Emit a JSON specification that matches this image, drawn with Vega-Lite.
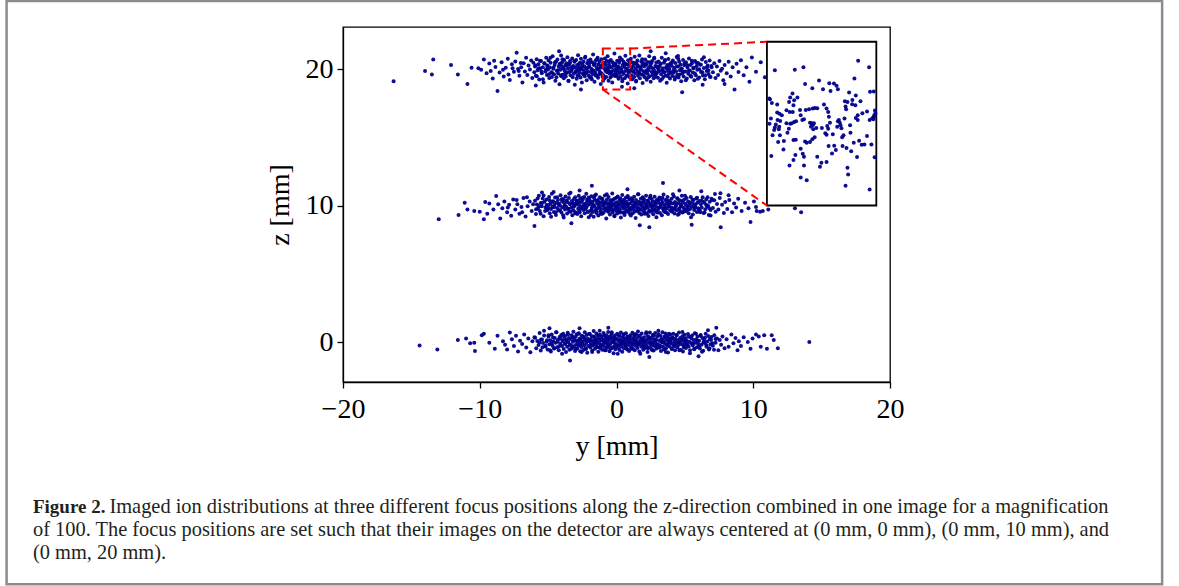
{
"$schema":"https://vega.github.io/schema/vega-lite/v6.json",
"width":547,"height":355,
"autosize":{"type":"none"},
"padding":{"left":343,"top":27,"right":289,"bottom":204},
"background":"white",
"config":{"view":{"stroke":"#000","strokeWidth":1.3},"font":"Liberation Serif",
"axis":{"labelFont":"Liberation Serif","titleFont":"Liberation Serif","labelFontSize":28,"titleFontSize":28,"titleFontWeight":"normal","labelColor":"#000","titleColor":"#000","tickColor":"#000","domainColor":"#000","domainWidth":1.3,"tickWidth":1.3,"tickSize":6,"grid":false,"labelFlush":false}},
"datasets":{
"main":[
{"y":-16.3,"z":19.1},{"y":-14.0,"z":19.85},{"y":-13.4,"z":20.7},{"y":-13.5,"z":19.6},{"y":-12.1,"z":20.3},{"y":-11.6,"z":19.6},{"y":-10.9,"z":18.9},{"y":-10.6,"z":20.1},{"y":-10.1,"z":20.05},{"y":-9.9,"z":19.95},{"y":-9.7,"z":20.7},{"y":-9.5,"z":19.7},{"y":-9.3,"z":20.4},{"y":-9.2,"z":19.85},{"y":-9.05,"z":19.3},{"y":-8.95,"z":20.6},{"y":-8.85,"z":20.15},{"y":-8.7,"z":18.4},{"y":-8.55,"z":19.75},{"y":-8.4,"z":20.5},{"y":-8.3,"z":19.95},{"y":-8.25,"z":19.45},{"y":-8.1,"z":20.1},{"y":-7.95,"z":20.75},{"y":-7.9,"z":19.6},{"y":-7.8,"z":19.2},{"y":-7.65,"z":20.35},{"y":-7.6,"z":20.05},{"y":-7.5,"z":19.8},{"y":-7.4,"z":20.55},{"y":-7.3,"z":21.2},{"y":-7.2,"z":20.0},{"y":-7.15,"z":19.85},{"y":-7.1,"z":19.5},{"y":-7.0,"z":20.45},
{"y":-6.97,"z":20.13},{"y":-6.88,"z":19.01},{"y":-6.79,"z":20.43},{"y":-6.7,"z":19.82},{"y":-6.61,"z":20.82},{"y":-6.52,"z":19.57},{"y":-6.43,"z":20.26},{"y":-6.33,"z":19.97},{"y":-6.24,"z":20.62},{"y":-6.16,"z":19.34},{"y":-6.08,"z":20.46},{"y":-6.01,"z":19.76},
{"y":-5.96,"z":20.19},{"y":-5.9,"z":19.5},{"y":-5.84,"z":20.72},{"y":-5.77,"z":19.92},{"y":-5.71,"z":20.35},{"y":-5.65,"z":19.23},{"y":-5.58,"z":20.05},{"y":-5.52,"z":20.58},{"y":-5.46,"z":19.7},{"y":-5.39,"z":20.13},{"y":-5.33,"z":19.01},{"y":-5.27,"z":20.43},{"y":-5.2,"z":19.82},{"y":-5.14,"z":20.82},{"y":-5.09,"z":19.57},{"y":-5.05,"z":20.26},{"y":-5.01,"z":19.97},
{"y":-4.97,"z":20.62},{"y":-4.92,"z":19.34},{"y":-4.87,"z":20.11},{"y":-4.82,"z":20.46},{"y":-4.77,"z":19.76},{"y":-4.72,"z":19.42},{"y":-4.67,"z":20.93},{"y":-4.62,"z":20.02},{"y":-4.57,"z":19.62},{"y":-4.52,"z":20.3},{"y":-4.47,"z":19.15},{"y":-4.42,"z":20.53},{"y":-4.37,"z":19.87},{"y":-4.32,"z":20.7},{"y":-4.27,"z":19.68},{"y":-4.22,"z":20.16},{"y":-4.17,"z":18.88},{"y":-4.12,"z":20.4},{"y":-4.08,"z":19.94},{"y":-4.05,"z":20.99},{"y":-4.03,"z":19.47},{"y":-4.01,"z":20.22},
{"y":-3.97,"z":20.5},{"y":-3.93,"z":19.58},{"y":-3.9,"z":20.08},{"y":-3.85,"z":19.33},{"y":-3.82,"z":20.67},{"y":-3.78,"z":19.86},{"y":-3.74,"z":20.27},{"y":-3.71,"z":19.46},{"y":-3.66,"z":20.42},{"y":-3.63,"z":19.73},{"y":-3.59,"z":20.86},{"y":-3.55,"z":20.03},{"y":-3.51,"z":19.12},{"y":-3.47,"z":20.34},{"y":-3.44,"z":19.79},{"y":-3.4,"z":20.59},{"y":-3.36,"z":19.54},{"y":-3.32,"z":20.14},{"y":-3.28,"z":19.94},{"y":-3.24,"z":20.77},{"y":-3.2,"z":19.39},{"y":-3.16,"z":20.22},{"y":-3.12,"z":19.66},{"y":-3.08,"z":20.53},{"y":-3.05,"z":18.85},{"y":-3.01,"z":20.1},
{"y":-2.98,"z":19.81},{"y":-2.95,"z":20.66},{"y":-2.91,"z":19.28},{"y":-2.88,"z":20.3},{"y":-2.84,"z":19.95},{"y":-2.81,"z":21.01},{"y":-2.77,"z":19.55},{"y":-2.74,"z":20.13},{"y":-2.7,"z":19.74},{"y":-2.67,"z":20.46},{"y":-2.63,"z":19.38},{"y":-2.6,"z":20.75},{"y":-2.56,"z":20.02},{"y":-2.53,"z":19.02},{"y":-2.49,"z":20.37},{"y":-2.46,"z":19.65},{"y":-2.42,"z":20.56},{"y":-2.39,"z":19.89},{"y":-2.35,"z":20.19},{"y":-2.32,"z":19.47},{"y":-2.28,"z":20.9},{"y":-2.25,"z":19.71},{"y":-2.21,"z":20.06},{"y":-2.18,"z":19.18},{"y":-2.14,"z":20.43},{"y":-2.11,"z":19.84},{"y":-2.07,"z":20.61},{"y":-2.03,"z":19.52},
{"y":-1.98,"z":20.24},{"y":-1.95,"z":19.38},{"y":-1.91,"z":20.7},{"y":-1.88,"z":19.78},{"y":-1.85,"z":20.03},{"y":-1.81,"z":19.25},{"y":-1.78,"z":20.5},{"y":-1.75,"z":19.63},{"y":-1.71,"z":21.07},{"y":-1.68,"z":19.9},{"y":-1.65,"z":20.29},{"y":-1.61,"z":19.07},{"y":-1.58,"z":20.4},{"y":-1.55,"z":19.73},{"y":-1.51,"z":20.64},{"y":-1.48,"z":19.5},{"y":-1.45,"z":20.14},{"y":-1.41,"z":19.97},{"y":-1.38,"z":20.83},{"y":-1.35,"z":19.36},{"y":-1.31,"z":20.34},{"y":-1.28,"z":19.6},{"y":-1.25,"z":20.53},{"y":-1.21,"z":19.81},{"y":-1.18,"z":20.1},{"y":-1.15,"z":18.91},{"y":-1.11,"z":20.72},{"y":-1.08,"z":19.68},{"y":-1.05,"z":20.22},{"y":-1.02,"z":19.44},
{"y":-0.98,"z":20.43},{"y":-0.95,"z":19.54},{"y":-0.91,"z":20.05},{"y":-0.88,"z":19.31},{"y":-0.85,"z":20.78},{"y":-0.81,"z":19.87},{"y":-0.78,"z":20.3},{"y":-0.75,"z":19.42},{"y":-0.71,"z":20.58},{"y":-0.68,"z":19.76},{"y":-0.65,"z":20.93},{"y":-0.61,"z":19.95},{"y":-0.58,"z":19.14},{"y":-0.55,"z":20.37},{"y":-0.51,"z":19.66},{"y":-0.48,"z":20.18},{"y":-0.45,"z":19.38},{"y":-0.41,"z":20.67},{"y":-0.38,"z":19.82},{"y":-0.35,"z":20.11},{"y":-0.31,"z":19.01},{"y":-0.28,"z":20.5},{"y":-0.25,"z":19.62},{"y":-0.21,"z":20.26},{"y":-0.18,"z":19.92},{"y":-0.15,"z":21.14},{"y":-0.11,"z":19.49},{"y":-0.08,"z":20.38},{"y":-0.05,"z":19.73},{"y":-0.02,"z":20.06},
{"y":0.02,"z":19.57},{"y":0.05,"z":20.61},{"y":0.09,"z":19.86},{"y":0.12,"z":20.19},{"y":0.15,"z":19.28},{"y":0.19,"z":20.46},{"y":0.22,"z":19.71},{"y":0.25,"z":20.85},{"y":0.29,"z":19.46},{"y":0.32,"z":20.08},{"y":0.35,"z":19.94},{"y":0.39,"z":20.7},{"y":0.42,"z":19.1},{"y":0.45,"z":20.29},{"y":0.49,"z":19.63},{"y":0.52,"z":20.53},{"y":0.55,"z":19.79},{"y":0.59,"z":20.14},{"y":0.62,"z":19.34},{"y":0.65,"z":20.98},{"y":0.69,"z":19.89},{"y":0.72,"z":20.35},{"y":0.75,"z":19.52},{"y":0.79,"z":20.02},{"y":0.82,"z":18.94},{"y":0.85,"z":20.64},{"y":0.89,"z":19.76},{"y":0.92,"z":20.24},{"y":0.95,"z":19.41},{"y":0.98,"z":20.43},
{"y":1.02,"z":19.9},{"y":1.05,"z":20.75},{"y":1.09,"z":19.55},{"y":1.12,"z":20.13},{"y":1.16,"z":19.25},{"y":1.19,"z":20.48},{"y":1.22,"z":19.81},{"y":1.26,"z":20.3},{"y":1.29,"z":19.42},{"y":1.33,"z":20.9},{"y":1.36,"z":19.68},{"y":1.4,"z":20.05},{"y":1.43,"z":19.09},{"y":1.47,"z":20.4},{"y":1.5,"z":19.87},{"y":1.53,"z":20.62},{"y":1.57,"z":19.5},{"y":1.6,"z":20.21},{"y":1.64,"z":19.76},{"y":1.67,"z":20.99},{"y":1.71,"z":19.33},{"y":1.74,"z":20.1},{"y":1.78,"z":19.95},{"y":1.81,"z":20.54},{"y":1.84,"z":19.6},{"y":1.88,"z":20.27},{"y":1.91,"z":18.98},{"y":1.95,"z":20.45},{"y":1.98,"z":19.84},
{"y":2.02,"z":20.18},{"y":2.06,"z":19.39},{"y":2.1,"z":20.69},{"y":2.13,"z":19.74},{"y":2.17,"z":20.32},{"y":2.21,"z":19.22},{"y":2.24,"z":20.51},{"y":2.28,"z":19.65},{"y":2.32,"z":20.08},{"y":2.35,"z":19.92},{"y":2.39,"z":20.94},{"y":2.43,"z":19.47},{"y":2.46,"z":20.26},{"y":2.5,"z":19.06},{"y":2.54,"z":20.42},{"y":2.58,"z":19.79},{"y":2.61,"z":20.59},{"y":2.65,"z":19.57},{"y":2.69,"z":20.03},{"y":2.72,"z":19.33},{"y":2.76,"z":20.77},{"y":2.8,"z":19.86},{"y":2.84,"z":20.22},{"y":2.87,"z":19.46},{"y":2.91,"z":20.48},{"y":2.95,"z":19.71},{"y":2.98,"z":20.11},
{"y":3.03,"z":19.36},{"y":3.07,"z":20.56},{"y":3.11,"z":19.82},{"y":3.15,"z":20.19},{"y":3.19,"z":19.15},{"y":3.23,"z":20.37},{"y":3.27,"z":19.62},{"y":3.31,"z":20.83},{"y":3.35,"z":19.9},{"y":3.39,"z":20.06},{"y":3.43,"z":19.41},{"y":3.47,"z":20.46},{"y":3.51,"z":19.76},{"y":3.55,"z":20.66},{"y":3.59,"z":19.52},{"y":3.63,"z":20.14},{"y":3.67,"z":18.99},{"y":3.71,"z":20.29},{"y":3.75,"z":19.87},{"y":3.79,"z":20.74},{"y":3.83,"z":19.66},{"y":3.87,"z":20.02},{"y":3.91,"z":19.3},{"y":3.95,"z":20.43},{"y":3.98,"z":19.79},
{"y":4.03,"z":20.24},{"y":4.08,"z":19.49},{"y":4.12,"z":20.62},{"y":4.17,"z":19.73},{"y":4.22,"z":20.1},{"y":4.26,"z":19.23},{"y":4.31,"z":20.45},{"y":4.36,"z":19.84},{"y":4.4,"z":20.88},{"y":4.45,"z":19.58},{"y":4.5,"z":20.18},{"y":4.54,"z":19.38},{"y":4.59,"z":20.53},{"y":4.64,"z":19.92},{"y":4.68,"z":20.32},{"y":4.73,"z":19.1},{"y":4.78,"z":20.03},{"y":4.82,"z":19.7},{"y":4.87,"z":20.67},{"y":4.91,"z":19.46},{"y":4.96,"z":20.27},
{"y":5.03,"z":19.82},{"y":5.08,"z":20.5},{"y":5.14,"z":19.31},{"y":5.19,"z":20.11},{"y":5.25,"z":19.65},{"y":5.3,"z":20.77},{"y":5.36,"z":19.89},{"y":5.41,"z":20.3},{"y":5.47,"z":19.44},{"y":5.52,"z":20.42},{"y":5.58,"z":19.74},{"y":5.63,"z":20.06},{"y":5.69,"z":19.18},{"y":5.74,"z":20.59},{"y":5.8,"z":19.55},{"y":5.85,"z":20.21},{"y":5.91,"z":19.94},{"y":5.96,"z":20.45},
{"y":6.04,"z":19.38},{"y":6.11,"z":20.34},{"y":6.18,"z":19.78},{"y":6.25,"z":20.7},{"y":6.32,"z":19.52},{"y":6.39,"z":20.08},{"y":6.46,"z":19.25},{"y":6.53,"z":20.51},{"y":6.6,"z":19.86},{"y":6.67,"z":20.26},{"y":6.74,"z":19.63},{"y":6.81,"z":20.62},{"y":6.88,"z":19.42},{"y":6.95,"z":20.13},
{"y":7.05,"z":19.76},{"y":7.15,"z":20.43},{"y":7.24,"z":19.34},{"y":7.34,"z":20.18},{"y":7.43,"z":19.57},{"y":7.53,"z":20.58},{"y":7.62,"z":19.87},{"y":7.72,"z":20.03},{"y":7.81,"z":19.17},{"y":7.91,"z":20.3},
{"y":8.06,"z":19.7},{"y":8.2,"z":20.54},{"y":8.35,"z":19.46},{"y":8.49,"z":20.14},{"y":8.63,"z":18.5},{"y":8.78,"z":20.38},{"y":8.92,"z":19.79},{"y":9.1,"z":20.65},{"y":9.3,"z":19.55},{"y":9.5,"z":20.13},{"y":9.72,"z":19.07},{"y":9.9,"z":20.85},{"y":10.2,"z":19.8},{"y":10.55,"z":20.5},{"y":10.85,"z":19.4},{"y":11.3,"z":20.1},{"y":11.7,"z":19.5},
{"y":-2.6,"z":18.5},{"y":0.4,"z":18.7},{"y":4.8,"z":18.3},{"y":2.5,"z":21.3},{"y":4.5,"z":20.95},{"y":-4.2,"z":21.3},{"y":7.9,"z":18.9},{"y":-5.9,"z":18.8},{"y":1.3,"z":18.6},{"y":3.6,"z":21.15},{"y":6.3,"z":18.85},
{"y":-5.93,"z":20.28},{"y":-5.82,"z":19.48},{"y":-5.71,"z":20.06},{"y":-5.6,"z":20.61},{"y":-5.49,"z":19.82},{"y":-5.38,"z":19.26},{"y":-5.27,"z":20.4},{"y":-5.16,"z":19.97},{"y":-5.05,"z":20.19},{"y":-4.94,"z":19.61},{"y":-4.83,"z":20.83},{"y":-4.72,"z":19.73},{"y":-4.61,"z":20.12},{"y":-4.5,"z":20.5},{"y":-4.39,"z":19.4},{"y":-4.28,"z":19.91},{"y":-4.17,"z":20.33},{"y":-4.06,"z":19.54},{"y":-3.95,"z":20.71},{"y":-3.84,"z":20.02},{"y":-3.73,"z":19.69},{"y":-3.62,"z":20.24},{"y":-3.51,"z":19.14},{"y":-3.4,"z":20.45},{"y":-3.29,"z":19.86},{"y":-3.18,"z":20.09},{"y":-3.07,"z":20.57},{"y":-2.96,"z":19.78},{"y":-2.85,"z":19.51},{"y":-2.74,"z":20.36},
{"y":-2.63,"z":19.97},{"y":-2.52,"z":20.19},{"y":-2.41,"z":19.61},{"y":-2.3,"z":20.83},{"y":-2.19,"z":19.73},{"y":-2.08,"z":20.12},{"y":-1.97,"z":20.5},{"y":-1.86,"z":19.4},{"y":-1.75,"z":19.91},{"y":-1.64,"z":20.33},{"y":-1.53,"z":19.54},{"y":-1.42,"z":20.71},{"y":-1.31,"z":20.02},{"y":-1.2,"z":19.69},{"y":-1.09,"z":20.24},{"y":-0.98,"z":19.14},{"y":-0.87,"z":20.45},{"y":-0.76,"z":19.86},{"y":-0.65,"z":20.09},{"y":-0.54,"z":20.57},{"y":-0.43,"z":19.78},{"y":-0.32,"z":19.51},{"y":-0.21,"z":20.36},{"y":-0.1,"z":20.28},{"y":0.01,"z":19.48},{"y":0.12,"z":20.06},{"y":0.23,"z":20.61},{"y":0.34,"z":19.82},{"y":0.45,"z":19.26},{"y":0.56,"z":20.4},
{"y":0.67,"z":20.36},{"y":0.78,"z":19.51},{"y":0.89,"z":19.78},{"y":1.0,"z":20.57},{"y":1.11,"z":20.09},{"y":1.22,"z":19.86},{"y":1.33,"z":20.45},{"y":1.44,"z":19.14},{"y":1.55,"z":20.24},{"y":1.66,"z":19.69},{"y":1.77,"z":20.02},{"y":1.88,"z":20.71},{"y":1.99,"z":19.54},{"y":2.1,"z":20.33},{"y":2.21,"z":19.91},{"y":2.32,"z":19.4},{"y":2.43,"z":20.5},{"y":2.54,"z":20.12},{"y":2.65,"z":19.73},{"y":2.76,"z":20.83},{"y":2.87,"z":19.61},{"y":2.98,"z":20.19},{"y":3.09,"z":19.97},{"y":3.2,"z":20.4},{"y":3.31,"z":19.26},{"y":3.42,"z":19.82},{"y":3.53,"z":20.61},{"y":3.64,"z":20.06},{"y":3.75,"z":19.48},{"y":3.86,"z":20.28},
{"y":3.97,"z":19.72},{"y":4.08,"z":20.52},{"y":4.19,"z":19.94},{"y":4.3,"z":19.39},{"y":4.41,"z":20.18},{"y":4.52,"z":20.74},{"y":4.63,"z":19.6},{"y":4.74,"z":20.03},{"y":4.85,"z":19.81},{"y":4.96,"z":20.39},{"y":5.07,"z":19.17},{"y":5.18,"z":20.27},{"y":5.29,"z":19.88},{"y":5.4,"z":19.5},{"y":5.51,"z":20.6},{"y":5.62,"z":20.09},{"y":5.73,"z":19.67},{"y":5.84,"z":20.46},{"y":5.95,"z":19.29},{"y":6.06,"z":19.98},{"y":6.17,"z":20.31},{"y":6.28,"z":19.76},{"y":6.39,"z":20.86},{"y":6.5,"z":19.55},{"y":6.61,"z":20.14},{"y":6.72,"z":19.91},{"y":6.83,"z":19.43},{"y":6.94,"z":20.22},

{"y":-13.0,"z":9.0},{"y":-11.55,"z":9.3},{"y":-11.1,"z":10.2},{"y":-10.9,"z":9.7},{"y":-10.4,"z":9.6},{"y":-10.0,"z":9.55},{"y":-9.7,"z":9.0},{"y":-9.6,"z":10.25},{"y":-9.45,"z":9.4},{"y":-9.3,"z":10.15},{"y":-9.0,"z":9.7},{"y":-8.8,"z":10.7},{"y":-8.65,"z":10.1},{"y":-8.5,"z":9.05},{"y":-8.35,"z":9.8},{"y":-8.2,"z":10.3},{"y":-8.0,"z":9.5},{"y":-7.95,"z":9.85},{"y":-7.85,"z":10.05},{"y":-7.7,"z":9.25},{"y":-7.55,"z":10.45},{"y":-7.4,"z":9.7},{"y":-7.3,"z":10.4},{"y":-7.25,"z":10.1},{"y":-7.1,"z":9.4},{"y":-6.95,"z":9.9},{"y":-6.9,"z":9.5},{"y":-6.8,"z":10.55},{"y":-6.65,"z":9.2},{"y":-6.55,"z":10.6},{"y":-6.5,"z":9.95},{"y":-6.35,"z":10.3},{"y":-6.2,"z":9.6},{"y":-6.1,"z":10.1},{"y":-6.0,"z":8.5},{"y":-5.45,"z":10.95},
{"y":-5.96,"z":10.35},{"y":-5.89,"z":9.38},{"y":-5.82,"z":10.08},{"y":-5.75,"z":9.79},{"y":-5.68,"z":10.71},{"y":-5.61,"z":9.6},{"y":-5.54,"z":10.19},{"y":-5.47,"z":9.95},{"y":-5.4,"z":10.52},{"y":-5.33,"z":9.22},{"y":-5.26,"z":10.27},{"y":-5.19,"z":9.86},{"y":-5.12,"z":10.44},{"y":-5.05,"z":9.67},
{"y":-4.98,"z":10.02},{"y":-4.93,"z":10.63},{"y":-4.88,"z":9.44},{"y":-4.84,"z":10.13},{"y":-4.79,"z":9.74},{"y":-4.73,"z":10.86},{"y":-4.69,"z":9.91},{"y":-4.64,"z":10.31},{"y":-4.58,"z":9.53},{"y":-4.54,"z":10.05},{"y":-4.49,"z":10.58},{"y":-4.43,"z":9.31},{"y":-4.39,"z":10.22},{"y":-4.34,"z":9.82},{"y":-4.28,"z":10.4},{"y":-4.24,"z":9.63},{"y":-4.19,"z":10.11},{"y":-4.13,"z":9.98},{"y":-4.09,"z":10.76},{"y":-4.03,"z":9.49},
{"y":-3.98,"z":10.29},{"y":-3.94,"z":9.88},{"y":-3.9,"z":10.48},{"y":-3.86,"z":9.12},{"y":-3.81,"z":10.16},{"y":-3.77,"z":9.7},{"y":-3.73,"z":10.66},{"y":-3.69,"z":9.93},{"y":-3.65,"z":10.37},{"y":-3.61,"z":9.41},{"y":-3.56,"z":10.24},{"y":-3.52,"z":9.76},{"y":-3.48,"z":10.55},{"y":-3.44,"z":9.57},{"y":-3.4,"z":10.09},{"y":-3.36,"z":10.93},{"y":-3.31,"z":9.84},{"y":-3.27,"z":10.33},{"y":-3.23,"z":9.28},{"y":-3.19,"z":10.2},{"y":-3.15,"z":9.65},{"y":-3.11,"z":10.47},{"y":-3.06,"z":9.99},{"y":-3.02,"z":10.6},
{"y":-2.98,"z":9.5},{"y":-2.95,"z":10.14},{"y":-2.91,"z":10.35},{"y":-2.87,"z":9.38},{"y":-2.84,"z":10.08},{"y":-2.8,"z":9.79},{"y":-2.76,"z":10.71},{"y":-2.73,"z":9.6},{"y":-2.69,"z":10.19},{"y":-2.65,"z":9.95},{"y":-2.62,"z":10.52},{"y":-2.58,"z":9.22},{"y":-2.54,"z":10.27},{"y":-2.51,"z":9.86},{"y":-2.47,"z":10.44},{"y":-2.43,"z":9.67},{"y":-2.4,"z":10.02},{"y":-2.36,"z":10.63},{"y":-2.32,"z":9.44},{"y":-2.29,"z":10.13},{"y":-2.25,"z":9.74},{"y":-2.21,"z":10.86},{"y":-2.18,"z":9.91},{"y":-2.14,"z":10.31},{"y":-2.1,"z":9.53},{"y":-2.07,"z":10.05},{"y":-2.03,"z":10.58},
{"y":-1.98,"z":10.45},{"y":-1.95,"z":9.6},{"y":-1.91,"z":10.12},{"y":-1.88,"z":9.31},{"y":-1.84,"z":10.68},{"y":-1.81,"z":9.84},{"y":-1.77,"z":10.27},{"y":-1.74,"z":9.52},{"y":-1.71,"z":10.03},{"y":-1.67,"z":9.17},{"y":-1.64,"z":10.55},{"y":-1.6,"z":9.93},{"y":-1.57,"z":10.36},{"y":-1.53,"z":9.68},{"y":-1.5,"z":10.81},{"y":-1.47,"z":9.45},{"y":-1.43,"z":10.15},{"y":-1.4,"z":9.78},{"y":-1.36,"z":10.41},{"y":-1.33,"z":9.26},{"y":-1.29,"z":10.07},{"y":-1.26,"z":9.89},{"y":-1.22,"z":10.6},{"y":-1.19,"z":9.56},{"y":-1.16,"z":10.22},{"y":-1.12,"z":9.72},{"y":-1.09,"z":10.5},{"y":-1.05,"z":9.39},{"y":-1.02,"z":9.98},
{"y":-0.98,"z":10.31},{"y":-0.95,"z":9.47},{"y":-0.91,"z":10.09},{"y":-0.88,"z":9.81},{"y":-0.85,"z":10.74},{"y":-0.81,"z":9.63},{"y":-0.78,"z":10.2},{"y":-0.75,"z":9.05},{"y":-0.71,"z":10.43},{"y":-0.68,"z":9.9},{"y":-0.65,"z":10.14},{"y":-0.61,"z":9.55},{"y":-0.58,"z":10.62},{"y":-0.55,"z":9.76},{"y":-0.51,"z":10.01},{"y":-0.48,"z":9.35},{"y":-0.45,"z":10.38},{"y":-0.41,"z":9.86},{"y":-0.38,"z":10.25},{"y":-0.35,"z":9.66},{"y":-0.31,"z":10.88},{"y":-0.28,"z":9.5},{"y":-0.25,"z":10.05},{"y":-0.21,"z":9.73},{"y":-0.18,"z":10.47},{"y":-0.15,"z":9.22},{"y":-0.11,"z":10.17},{"y":-0.08,"z":9.95},{"y":-0.05,"z":10.56},{"y":-0.02,"z":9.61},
{"y":0.02,"z":10.24},{"y":0.05,"z":9.42},{"y":0.09,"z":10.66},{"y":0.12,"z":9.83},{"y":0.15,"z":10.08},{"y":0.19,"z":9.58},{"y":0.22,"z":10.35},{"y":0.25,"z":9.7},{"y":0.29,"z":10.52},{"y":0.32,"z":9.13},{"y":0.35,"z":10.19},{"y":0.39,"z":9.92},{"y":0.42,"z":10.77},{"y":0.45,"z":9.49},{"y":0.49,"z":10.04},{"y":0.52,"z":9.79},{"y":0.55,"z":10.42},{"y":0.59,"z":9.3},{"y":0.62,"z":10.13},{"y":0.65,"z":9.88},{"y":0.69,"z":10.59},{"y":0.72,"z":9.64},{"y":0.75,"z":10.28},{"y":0.79,"z":9.97},{"y":0.82,"z":10.7},{"y":0.85,"z":9.53},{"y":0.89,"z":10.1},{"y":0.92,"z":9.74},{"y":0.95,"z":10.46},{"y":0.98,"z":9.38},
{"y":1.02,"z":10.16},{"y":1.05,"z":9.67},{"y":1.09,"z":10.53},{"y":1.12,"z":9.85},{"y":1.16,"z":10.32},{"y":1.19,"z":9.44},{"y":1.22,"z":10.02},{"y":1.26,"z":9.76},{"y":1.29,"z":10.64},{"y":1.33,"z":9.57},{"y":1.36,"z":10.21},{"y":1.4,"z":9.09},{"y":1.43,"z":10.4},{"y":1.47,"z":9.9},{"y":1.5,"z":10.11},{"y":1.53,"z":9.62},{"y":1.57,"z":10.83},{"y":1.6,"z":9.8},{"y":1.64,"z":10.27},{"y":1.67,"z":9.46},{"y":1.71,"z":10.06},{"y":1.74,"z":9.71},{"y":1.78,"z":10.5},{"y":1.81,"z":9.34},{"y":1.84,"z":10.18},{"y":1.88,"z":9.94},{"y":1.91,"z":10.61},{"y":1.95,"z":9.59},{"y":1.98,"z":10.3},{"y":1.99,"z":9.82},
{"y":2.02,"z":10.44},{"y":2.06,"z":9.52},{"y":2.09,"z":10.13},{"y":2.13,"z":9.78},{"y":2.16,"z":10.72},{"y":2.2,"z":9.4},{"y":2.23,"z":10.05},{"y":2.27,"z":9.87},{"y":2.3,"z":10.37},{"y":2.34,"z":9.24},{"y":2.37,"z":10.22},{"y":2.41,"z":9.65},{"y":2.44,"z":10.57},{"y":2.48,"z":9.96},{"y":2.51,"z":10.09},{"y":2.55,"z":9.55},{"y":2.58,"z":10.48},{"y":2.62,"z":9.81},{"y":2.65,"z":10.29},{"y":2.69,"z":9.36},{"y":2.72,"z":10.01},{"y":2.76,"z":9.73},{"y":2.79,"z":10.65},{"y":2.83,"z":9.6},{"y":2.86,"z":10.15},{"y":2.9,"z":9.91},{"y":2.93,"z":10.39},{"y":2.97,"z":9.48},{"y":2.99,"z":10.2},
{"y":3.03,"z":9.69},{"y":3.07,"z":10.33},{"y":3.1,"z":9.84},{"y":3.14,"z":10.58},{"y":3.18,"z":9.45},{"y":3.21,"z":10.11},{"y":3.25,"z":9.93},{"y":3.29,"z":10.46},{"y":3.32,"z":9.28},{"y":3.36,"z":10.24},{"y":3.4,"z":9.75},{"y":3.44,"z":10.8},{"y":3.47,"z":9.58},{"y":3.51,"z":10.04},{"y":3.55,"z":9.88},{"y":3.58,"z":10.41},{"y":3.62,"z":9.51},{"y":3.66,"z":10.17},{"y":3.69,"z":9.79},{"y":3.73,"z":10.62},{"y":3.77,"z":9.37},{"y":3.81,"z":10.07},{"y":3.84,"z":9.95},{"y":3.88,"z":10.34},{"y":3.92,"z":9.63},{"y":3.95,"z":10.21},{"y":3.99,"z":9.86},
{"y":4.03,"z":10.49},{"y":4.07,"z":9.54},{"y":4.11,"z":10.14},{"y":4.15,"z":9.8},{"y":4.2,"z":10.67},{"y":4.24,"z":9.41},{"y":4.28,"z":10.26},{"y":4.32,"z":9.9},{"y":4.36,"z":10.02},{"y":4.4,"z":9.66},{"y":4.45,"z":10.53},{"y":4.49,"z":9.32},{"y":4.53,"z":10.19},{"y":4.57,"z":9.77},{"y":4.61,"z":10.38},{"y":4.65,"z":9.6},{"y":4.7,"z":10.08},{"y":4.74,"z":9.97},{"y":4.78,"z":10.71},{"y":4.82,"z":9.49},{"y":4.86,"z":10.23},{"y":4.9,"z":9.84},{"y":4.94,"z":10.43},{"y":4.98,"z":9.7},
{"y":5.03,"z":10.12},{"y":5.08,"z":9.58},{"y":5.13,"z":10.55},{"y":5.18,"z":9.83},{"y":5.23,"z":10.29},{"y":5.28,"z":9.43},{"y":5.33,"z":10.03},{"y":5.38,"z":9.74},{"y":5.43,"z":10.63},{"y":5.48,"z":9.92},{"y":5.53,"z":10.18},{"y":5.58,"z":9.35},{"y":5.63,"z":10.4},{"y":5.68,"z":9.67},{"y":5.73,"z":10.07},{"y":5.78,"z":9.88},{"y":5.83,"z":10.51},{"y":5.88,"z":9.52},{"y":5.93,"z":10.22},{"y":5.98,"z":9.79},
{"y":6.04,"z":10.34},{"y":6.1,"z":9.62},{"y":6.17,"z":10.09},{"y":6.23,"z":9.85},{"y":6.3,"z":10.6},{"y":6.36,"z":9.45},{"y":6.43,"z":10.2},{"y":6.49,"z":9.73},{"y":6.56,"z":10.44},{"y":6.62,"z":9.94},{"y":6.69,"z":10.01},{"y":6.75,"z":9.3},{"y":6.82,"z":10.27},{"y":6.88,"z":9.68},{"y":6.95,"z":10.5},
{"y":7.05,"z":9.82},{"y":7.15,"z":10.38},{"y":7.25,"z":9.55},{"y":7.35,"z":10.12},{"y":7.45,"z":9.7},{"y":7.55,"z":10.55},{"y":7.62,"z":8.4},{"y":7.72,"z":10.05},{"y":7.85,"z":9.45},{"y":7.95,"z":10.25},
{"y":8.1,"z":9.75},{"y":8.25,"z":10.4},{"y":8.45,"z":9.5},{"y":8.6,"z":10.15},{"y":8.75,"z":9.85},{"y":8.9,"z":10.5},{"y":9.15,"z":9.6},{"y":9.4,"z":10.2},{"y":9.65,"z":9.8},{"y":9.8,"z":8.8},{"y":10.05,"z":10.3},{"y":10.2,"z":9.9},{"y":10.25,"z":9.6},{"y":10.5,"z":9.55},{"y":10.7,"z":9.6},{"y":11.1,"z":9.7},{"y":11.6,"z":10.4},{"y":13.05,"z":9.8},{"y":13.5,"z":9.5},
{"y":-1.8,"z":11.45},{"y":3.4,"z":11.65},{"y":4.6,"z":11.1},{"y":2.4,"z":8.4},{"y":7.2,"z":10.85},{"y":7.6,"z":10.9},{"y":8.2,"z":10.75},{"y":-3.3,"z":8.7},{"y":0.8,"z":11.2},{"y":5.5,"z":8.6},{"y":-4.6,"z":11.0},{"y":1.7,"z":8.55},{"y":6.2,"z":11.05},{"y":-2.7,"z":11.1},
{"y":-5.88,"z":9.72},{"y":-5.77,"z":10.52},{"y":-5.66,"z":9.94},{"y":-5.55,"z":9.39},{"y":-5.44,"z":10.18},{"y":-5.33,"z":10.74},{"y":-5.22,"z":9.6},{"y":-5.11,"z":10.03},{"y":-5.0,"z":9.81},{"y":-4.89,"z":10.39},{"y":-4.78,"z":9.17},{"y":-4.67,"z":10.27},{"y":-4.56,"z":9.88},{"y":-4.45,"z":9.5},{"y":-4.34,"z":10.6},{"y":-4.23,"z":10.09},{"y":-4.12,"z":9.67},{"y":-4.01,"z":10.46},{"y":-3.9,"z":9.29},{"y":-3.79,"z":9.98},{"y":-3.68,"z":10.31},{"y":-3.57,"z":9.76},{"y":-3.46,"z":10.86},{"y":-3.35,"z":9.55},{"y":-3.24,"z":10.14},{"y":-3.13,"z":9.91},{"y":-3.02,"z":9.43},{"y":-2.91,"z":10.22},
{"y":-2.8,"z":10.36},{"y":-2.69,"z":9.51},{"y":-2.58,"z":9.78},{"y":-2.47,"z":10.57},{"y":-2.36,"z":10.09},{"y":-2.25,"z":9.86},{"y":-2.14,"z":10.45},{"y":-2.03,"z":9.14},{"y":-1.92,"z":10.24},{"y":-1.81,"z":9.69},{"y":-1.7,"z":10.02},{"y":-1.59,"z":10.71},{"y":-1.48,"z":9.54},{"y":-1.37,"z":10.33},{"y":-1.26,"z":9.91},{"y":-1.15,"z":9.4},{"y":-1.04,"z":10.5},{"y":-0.93,"z":10.12},{"y":-0.82,"z":9.73},{"y":-0.71,"z":10.83},{"y":-0.6,"z":9.61},{"y":-0.49,"z":10.19},{"y":-0.38,"z":9.97},{"y":-0.27,"z":10.4},{"y":-0.16,"z":9.26},{"y":-0.05,"z":9.82},{"y":0.06,"z":10.61},{"y":0.17,"z":10.06},{"y":0.28,"z":9.48},{"y":0.39,"z":10.28},
{"y":0.5,"z":10.28},{"y":0.61,"z":9.48},{"y":0.72,"z":10.06},{"y":0.83,"z":10.61},{"y":0.94,"z":9.82},{"y":1.05,"z":9.26},{"y":1.16,"z":10.4},{"y":1.27,"z":9.97},{"y":1.38,"z":10.19},{"y":1.49,"z":9.61},{"y":1.6,"z":10.83},{"y":1.71,"z":9.73},{"y":1.82,"z":10.12},{"y":1.93,"z":10.5},{"y":2.04,"z":9.4},{"y":2.15,"z":9.91},{"y":2.26,"z":10.33},{"y":2.37,"z":9.54},{"y":2.48,"z":10.71},{"y":2.59,"z":10.02},{"y":2.7,"z":9.69},{"y":2.81,"z":10.24},{"y":2.92,"z":9.14},{"y":3.03,"z":10.45},{"y":3.14,"z":9.86},{"y":3.25,"z":10.09},{"y":3.36,"z":10.57},{"y":3.47,"z":9.78},{"y":3.58,"z":9.51},{"y":3.69,"z":10.36},
{"y":3.8,"z":9.97},{"y":3.91,"z":10.19},{"y":4.02,"z":9.61},{"y":4.13,"z":10.83},{"y":4.24,"z":9.73},{"y":4.35,"z":10.12},{"y":4.46,"z":10.5},{"y":4.57,"z":9.4},{"y":4.68,"z":9.91},{"y":4.79,"z":10.33},{"y":4.9,"z":9.54},{"y":5.01,"z":10.71},{"y":5.12,"z":10.02},{"y":5.23,"z":9.69},{"y":5.34,"z":10.24},{"y":5.45,"z":9.14},{"y":5.56,"z":10.45},{"y":5.67,"z":9.86},{"y":5.78,"z":10.09},{"y":5.89,"z":10.57},{"y":6.0,"z":9.78},{"y":6.11,"z":9.51},{"y":6.22,"z":10.36},{"y":6.33,"z":10.28},{"y":6.44,"z":9.48},{"y":6.55,"z":10.06},{"y":6.66,"z":10.61},{"y":6.77,"z":9.82},{"y":6.88,"z":9.26},{"y":6.99,"z":10.4},

{"y":-14.4,"z":-0.25},{"y":-13.1,"z":-0.55},{"y":-11.6,"z":0.15},{"y":-11.0,"z":0.25},{"y":-10.7,"z":-0.1},{"y":-10.4,"z":-0.05},{"y":-10.35,"z":-0.65},{"y":-9.85,"z":0.5},{"y":-9.7,"z":0.6},{"y":-9.3,"z":-0.05},{"y":-8.9,"z":-0.5},{"y":-8.7,"z":0.45},{"y":-8.3,"z":0.05},{"y":-8.15,"z":-0.2},{"y":-8.0,"z":-0.55},{"y":-7.8,"z":0.7},{"y":-7.65,"z":0.2},{"y":-7.5,"z":-0.3},{"y":-7.35,"z":0.45},{"y":-7.2,"z":-0.7},{"y":-7.05,"z":0.1},{"y":-6.9,"z":-0.15},{"y":-6.75,"z":0.55},{"y":-6.6,"z":-0.4},{"y":-6.45,"z":0.25},{"y":-6.3,"z":-0.75},{"y":-6.15,"z":0.05},{"y":-6.0,"z":0.35},
{"y":-5.95,"z":0.32},{"y":-5.87,"z":-0.45},{"y":-5.79,"z":0.08},{"y":-5.7,"z":-0.21},{"y":-5.62,"z":0.66},{"y":-5.54,"z":-0.62},{"y":-5.45,"z":0.19},{"y":-5.37,"z":-0.08},{"y":-5.29,"z":0.47},{"y":-5.2,"z":-0.33},{"y":-5.12,"z":0.02},{"y":-5.04,"z":-0.55},
{"y":-4.97,"z":0.41},{"y":-4.91,"z":-0.16},{"y":-4.9,"z":1.0},{"y":-4.85,"z":0.13},{"y":-4.8,"z":-0.7},{"y":-4.74,"z":0.55},{"y":-4.68,"z":-0.27},{"y":-4.62,"z":0.04},{"y":-4.57,"z":-0.48},{"y":-4.51,"z":0.29},{"y":-4.45,"z":-0.05},{"y":-4.39,"z":0.72},{"y":-4.34,"z":-0.38},{"y":-4.28,"z":0.16},{"y":-4.22,"z":-0.61},{"y":-4.16,"z":0.37},{"y":-4.1,"z":-0.12},{"y":-4.04,"z":0.51},
{"y":-3.98,"z":-0.29},{"y":-3.94,"z":0.07},{"y":-3.9,"z":0.6},{"y":-3.86,"z":-0.52},{"y":-3.82,"z":0.23},{"y":-3.77,"z":-0.1},{"y":-3.73,"z":0.44},{"y":-3.69,"z":-0.73},{"y":-3.65,"z":0.14},{"y":-3.61,"z":-0.35},{"y":-3.57,"z":0.68},{"y":-3.52,"z":-0.02},{"y":-3.48,"z":0.3},{"y":-3.44,"z":-0.57},{"y":-3.4,"z":-1.35},{"y":-3.36,"z":0.2},{"y":-3.32,"z":-0.22},{"y":-3.28,"z":0.49},{"y":-3.23,"z":-0.44},{"y":-3.19,"z":0.01},{"y":-3.15,"z":0.75},{"y":-3.11,"z":-0.31},{"y":-3.07,"z":0.11},{"y":-3.03,"z":-0.65},
{"y":-2.98,"z":0.38},{"y":-2.95,"z":-0.18},{"y":-2.91,"z":0.57},{"y":-2.87,"z":-0.49},{"y":-2.84,"z":0.09},{"y":-2.8,"z":-0.27},{"y":-2.76,"z":0.64},{"y":-2.73,"z":-0.04},{"y":-2.7,"z":1.0},{"y":-2.69,"z":0.26},{"y":-2.65,"z":-0.68},{"y":-2.62,"z":0.17},{"y":-2.58,"z":-0.36},{"y":-2.54,"z":0.46},{"y":-2.51,"z":-0.11},{"y":-2.47,"z":0.03},{"y":-2.43,"z":-0.59},{"y":-2.4,"z":0.33},{"y":-2.36,"z":-0.23},{"y":-2.32,"z":0.71},{"y":-2.29,"z":-0.45},{"y":-2.25,"z":0.12},{"y":-2.21,"z":-0.07},{"y":-2.18,"z":0.52},{"y":-2.14,"z":-0.78},{"y":-2.1,"z":0.24},{"y":-2.07,"z":-0.3},
{"y":-1.98,"z":0.06},{"y":-1.95,"z":0.59},{"y":-1.91,"z":-0.41},{"y":-1.88,"z":0.21},{"y":-1.84,"z":-0.15},{"y":-1.81,"z":0.43},{"y":-1.77,"z":-0.63},{"y":-1.74,"z":0.1},{"y":-1.71,"z":-0.26},{"y":-1.67,"z":0.8},{"y":-1.64,"z":-0.03},{"y":-1.6,"z":0.35},{"y":-1.57,"z":-0.5},{"y":-1.53,"z":0.15},{"y":-1.5,"z":-0.19},{"y":-1.47,"z":0.62},{"y":-1.43,"z":-0.37},{"y":-1.4,"z":0.0},{"y":-1.36,"z":0.48},{"y":-1.33,"z":-0.71},{"y":-1.29,"z":0.27},{"y":-1.26,"z":-0.09},{"y":-1.22,"z":0.54},{"y":-1.19,"z":-0.44},{"y":-1.16,"z":0.13},{"y":-1.12,"z":-0.24},{"y":-1.09,"z":0.4},{"y":-1.05,"z":-0.56},{"y":-1.02,"z":0.19},
{"y":-0.98,"z":-0.12},{"y":-0.95,"z":0.66},{"y":-0.91,"z":-0.33},{"y":-0.88,"z":0.05},{"y":-0.85,"z":-0.6},{"y":-0.81,"z":0.31},{"y":-0.78,"z":-0.05},{"y":-0.75,"z":0.5},{"y":-0.71,"z":-0.42},{"y":-0.68,"z":0.18},{"y":-0.65,"z":-0.2},{"y":-0.61,"z":0.74},{"y":-0.6,"z":1.05},{"y":-0.58,"z":-0.29},{"y":-0.55,"z":0.09},{"y":-0.51,"z":-0.67},{"y":-0.48,"z":0.42},{"y":-0.45,"z":-0.14},{"y":-0.41,"z":0.25},{"y":-0.38,"z":-0.48},{"y":-0.35,"z":0.58},{"y":-0.31,"z":0.02},{"y":-0.28,"z":-0.38},{"y":-0.25,"z":0.34},{"y":-0.21,"z":-0.83},{"y":-0.18,"z":0.15},{"y":-0.15,"z":-0.07},{"y":-0.11,"z":0.47},{"y":-0.08,"z":-0.53},{"y":-0.05,"z":0.22},
{"y":0.02,"z":-0.17},{"y":0.05,"z":0.61},{"y":0.09,"z":-0.4},{"y":0.12,"z":0.08},{"y":0.15,"z":-0.25},{"y":0.19,"z":0.45},{"y":0.22,"z":-0.58},{"y":0.25,"z":0.2},{"y":0.29,"z":-0.06},{"y":0.32,"z":0.7},{"y":0.35,"z":-0.34},{"y":0.39,"z":0.11},{"y":0.42,"z":-0.72},{"y":0.45,"z":0.36},{"y":0.49,"z":-0.13},{"y":0.52,"z":0.53},{"y":0.55,"z":-0.46},{"y":0.59,"z":0.03},{"y":0.62,"z":0.27},{"y":0.65,"z":-0.28},{"y":0.69,"z":0.64},{"y":0.72,"z":-0.1},{"y":0.75,"z":0.17},{"y":0.79,"z":-0.55},{"y":0.82,"z":0.41},{"y":0.85,"z":-0.21},{"y":0.89,"z":0.07},{"y":0.92,"z":-0.66},{"y":0.95,"z":0.32},{"y":0.98,"z":-0.02},
{"y":1.02,"z":0.49},{"y":1.05,"z":-0.37},{"y":1.09,"z":0.14},{"y":1.12,"z":-0.15},{"y":1.16,"z":0.68},{"y":1.19,"z":-0.5},{"y":1.22,"z":0.23},{"y":1.26,"z":-0.04},{"y":1.29,"z":0.39},{"y":1.33,"z":-0.61},{"y":1.36,"z":0.1},{"y":1.4,"z":-0.27},{"y":1.43,"z":0.56},{"y":1.47,"z":-0.09},{"y":1.5,"z":0.3},{"y":1.53,"z":-0.44},{"y":1.57,"z":0.77},{"y":1.6,"z":-0.2},{"y":1.64,"z":0.04},{"y":1.67,"z":-0.69},{"y":1.71,"z":0.44},{"y":1.74,"z":-0.11},{"y":1.78,"z":0.19},{"y":1.81,"z":-0.35},{"y":1.84,"z":0.62},{"y":1.88,"z":-0.01},{"y":1.91,"z":0.26},{"y":1.95,"z":-0.57},{"y":1.98,"z":0.12},{"y":1.99,"z":-0.24},
{"y":2.02,"z":0.35},{"y":2.06,"z":-0.46},{"y":2.09,"z":0.05},{"y":2.13,"z":-0.19},{"y":2.16,"z":0.6},{"y":2.2,"z":-0.31},{"y":2.23,"z":0.16},{"y":2.27,"z":-0.74},{"y":2.3,"z":0.42},{"y":2.34,"z":-0.06},{"y":2.37,"z":0.25},{"y":2.4,"z":-1.1},{"y":2.41,"z":-0.39},{"y":2.44,"z":0.7},{"y":2.48,"z":-0.13},{"y":2.51,"z":0.09},{"y":2.55,"z":-0.52},{"y":2.58,"z":0.33},{"y":2.62,"z":-0.23},{"y":2.65,"z":0.51},{"y":2.69,"z":-0.03},{"y":2.72,"z":-0.62},{"y":2.76,"z":0.2},{"y":2.79,"z":-0.3},{"y":2.83,"z":0.66},{"y":2.86,"z":-0.08},{"y":2.9,"z":0.14},{"y":2.93,"z":-0.47},{"y":2.97,"z":0.38},
{"y":3.03,"z":-0.16},{"y":3.07,"z":0.57},{"y":3.1,"z":-0.41},{"y":3.14,"z":0.1},{"y":3.18,"z":-0.26},{"y":3.21,"z":0.46},{"y":3.25,"z":-0.65},{"y":3.29,"z":0.22},{"y":3.32,"z":-0.02},{"y":3.36,"z":0.72},{"y":3.4,"z":-0.35},{"y":3.44,"z":0.06},{"y":3.47,"z":-0.54},{"y":3.51,"z":0.31},{"y":3.55,"z":-0.12},{"y":3.58,"z":0.63},{"y":3.62,"z":-0.45},{"y":3.66,"z":0.15},{"y":3.69,"z":-0.21},{"y":3.73,"z":0.4},{"y":3.77,"z":-0.77},{"y":3.81,"z":0.01},{"y":3.84,"z":0.28},{"y":3.88,"z":-0.33},{"y":3.92,"z":0.55},{"y":3.95,"z":-0.07},{"y":3.99,"z":0.18},
{"y":4.03,"z":-0.5},{"y":4.07,"z":0.34},{"y":4.11,"z":-0.14},{"y":4.15,"z":0.61},{"y":4.2,"z":-0.3},{"y":4.24,"z":0.04},{"y":4.28,"z":-0.6},{"y":4.32,"z":0.24},{"y":4.36,"z":-0.09},{"y":4.4,"z":0.49},{"y":4.45,"z":-0.4},{"y":4.49,"z":0.12},{"y":4.53,"z":-0.22},{"y":4.57,"z":0.69},{"y":4.61,"z":-0.03},{"y":4.65,"z":0.3},{"y":4.7,"z":-0.56},{"y":4.74,"z":0.07},{"y":4.78,"z":-0.18},{"y":4.82,"z":0.43},{"y":4.86,"z":-0.7},{"y":4.9,"z":0.19},{"y":4.94,"z":-0.27},{"y":4.98,"z":0.53},{"y":4.99,"z":-0.05},
{"y":5.03,"z":0.27},{"y":5.08,"z":-0.44},{"y":5.13,"z":0.1},{"y":5.18,"z":-0.17},{"y":5.23,"z":0.58},{"y":5.28,"z":-0.32},{"y":5.33,"z":0.02},{"y":5.38,"z":-0.61},{"y":5.43,"z":0.36},{"y":5.48,"z":-0.1},{"y":5.53,"z":0.47},{"y":5.58,"z":-0.25},{"y":5.63,"z":0.15},{"y":5.68,"z":-0.53},{"y":5.73,"z":0.64},{"y":5.78,"z":-0.06},{"y":5.83,"z":0.21},{"y":5.88,"z":-0.38},{"y":5.93,"z":0.41},{"y":5.98,"z":-0.15},{"y":6.0,"z":-1.05},
{"y":6.04,"z":0.09},{"y":6.1,"z":-0.47},{"y":6.16,"z":0.52},{"y":6.22,"z":-0.2},{"y":6.28,"z":0.3},{"y":6.34,"z":-0.64},{"y":6.4,"z":0.14},{"y":6.46,"z":-0.08},{"y":6.52,"z":0.6},{"y":6.58,"z":-0.35},{"y":6.64,"z":0.03},{"y":6.7,"z":0.44},{"y":6.76,"z":-0.55},{"y":6.82,"z":0.22},{"y":6.88,"z":-0.16},{"y":6.94,"z":0.37},
{"y":7.05,"z":-0.28},{"y":7.15,"z":0.5},{"y":7.25,"z":-0.05},{"y":7.3,"z":1.05},{"y":7.35,"z":0.25},{"y":7.45,"z":-0.6},{"y":7.55,"z":0.15},{"y":7.65,"z":-0.2},{"y":7.75,"z":0.4},{"y":7.9,"z":-0.45},
{"y":8.05,"z":0.2},{"y":8.2,"z":-0.35},{"y":8.4,"z":0.55},{"y":8.55,"z":-0.1},{"y":8.7,"z":0.3},{"y":8.85,"z":-0.6},{"y":8.95,"z":0.05},{"y":9.1,"z":-0.3},{"y":9.3,"z":0.35},{"y":9.6,"z":0.0},{"y":9.8,"z":-0.5},{"y":9.95,"z":0.25},
{"y":10.2,"z":0.55},{"y":10.4,"z":0.4},{"y":10.55,"z":-0.35},{"y":10.8,"z":0.5},{"y":11.0,"z":-0.5},{"y":11.35,"z":0.5},{"y":11.5,"z":0.15},{"y":11.8,"z":-0.45},{"y":14.1,"z":0.0},
{"y":-5.63,"z":-0.03},{"y":-5.52,"z":0.19},{"y":-5.41,"z":-0.39},{"y":-5.3,"z":0.83},{"y":-5.19,"z":-0.27},{"y":-5.08,"z":0.12},{"y":-4.97,"z":0.5},{"y":-4.86,"z":-0.6},{"y":-4.75,"z":-0.09},{"y":-4.64,"z":0.33},{"y":-4.53,"z":-0.46},{"y":-4.42,"z":0.71},{"y":-4.31,"z":0.02},{"y":-4.2,"z":-0.31},{"y":-4.09,"z":0.24},{"y":-3.98,"z":-0.86},{"y":-3.87,"z":0.45},{"y":-3.76,"z":-0.14},{"y":-3.65,"z":0.09},{"y":-3.54,"z":0.57},{"y":-3.43,"z":-0.22},{"y":-3.32,"z":-0.49},{"y":-3.21,"z":0.36},{"y":-3.1,"z":0.28},{"y":-2.99,"z":-0.52},{"y":-2.88,"z":0.06},{"y":-2.77,"z":0.61},{"y":-2.66,"z":-0.18},{"y":-2.55,"z":-0.74},{"y":-2.44,"z":0.4},
{"y":-2.33,"z":0.28},{"y":-2.22,"z":-0.52},{"y":-2.11,"z":0.06},{"y":-2.0,"z":0.61},{"y":-1.89,"z":-0.18},{"y":-1.78,"z":-0.74},{"y":-1.67,"z":0.4},{"y":-1.56,"z":-0.03},{"y":-1.45,"z":0.19},{"y":-1.34,"z":-0.39},{"y":-1.23,"z":0.83},{"y":-1.12,"z":-0.27},{"y":-1.01,"z":0.12},{"y":-0.9,"z":0.5},{"y":-0.79,"z":-0.6},{"y":-0.68,"z":-0.09},{"y":-0.57,"z":0.33},{"y":-0.46,"z":-0.46},{"y":-0.35,"z":0.71},{"y":-0.24,"z":0.02},{"y":-0.13,"z":-0.31},{"y":-0.02,"z":0.24},{"y":0.09,"z":-0.86},{"y":0.2,"z":0.45},{"y":0.31,"z":-0.14},{"y":0.42,"z":0.09},{"y":0.53,"z":0.57},{"y":0.64,"z":-0.22},{"y":0.75,"z":-0.49},{"y":0.86,"z":0.36},
{"y":0.97,"z":0.36},{"y":1.08,"z":-0.49},{"y":1.19,"z":-0.22},{"y":1.3,"z":0.57},{"y":1.41,"z":0.09},{"y":1.52,"z":-0.14},{"y":1.63,"z":0.45},{"y":1.74,"z":-0.86},{"y":1.85,"z":0.24},{"y":1.96,"z":-0.31},{"y":2.07,"z":0.02},{"y":2.18,"z":0.71},{"y":2.29,"z":-0.46},{"y":2.4,"z":0.33},{"y":2.51,"z":-0.09},{"y":2.62,"z":-0.6},{"y":2.73,"z":0.5},{"y":2.84,"z":0.12},{"y":2.95,"z":-0.27},{"y":3.06,"z":0.83},{"y":3.17,"z":-0.39},{"y":3.28,"z":0.19},{"y":3.39,"z":-0.03},{"y":3.5,"z":0.4},{"y":3.61,"z":-0.74},{"y":3.72,"z":-0.18},{"y":3.83,"z":0.61},{"y":3.94,"z":0.06},{"y":4.05,"z":-0.52},{"y":4.16,"z":0.28},
{"y":4.27,"z":-0.28},{"y":4.38,"z":0.52},{"y":4.49,"z":-0.06},{"y":4.6,"z":-0.61},{"y":4.71,"z":0.18},{"y":4.82,"z":0.74},{"y":4.93,"z":-0.4},{"y":5.04,"z":0.03},{"y":5.15,"z":-0.19},{"y":5.26,"z":0.39},{"y":5.37,"z":-0.83},{"y":5.48,"z":0.27},{"y":5.59,"z":-0.12},{"y":5.7,"z":-0.5},{"y":5.81,"z":0.6},{"y":5.92,"z":0.09},{"y":6.03,"z":-0.33},{"y":6.14,"z":0.46},{"y":6.25,"z":-0.71},{"y":6.36,"z":-0.02},{"y":6.47,"z":0.31},{"y":6.58,"z":-0.24},{"y":6.69,"z":0.86},{"y":6.8,"z":-0.45},{"y":6.91,"z":0.14},{"y":7.02,"z":-0.09},{"y":7.13,"z":-0.57},{"y":7.24,"z":0.22}
],
"inset":[
{"y":17.67,"z":20.6},{"y":18.47,"z":20.14},{"y":11.58,"z":19.92},{"y":13.04,"z":19.94},{"y":13.67,"z":20.14},{"y":17.4,"z":19.31},{"y":14.81,"z":19.16},{"y":13.79,"z":18.91},{"y":15.56,"z":18.96},{"y":15.9,"z":18.94},{"y":16.09,"z":18.77},{"y":16.19,"z":18.52},{"y":15.65,"z":18.4},{"y":15.1,"z":18.52},{"y":14.32,"z":18.6},{"y":17.01,"z":18.28},{"y":17.5,"z":18.06},{"y":18.54,"z":18.33},{"y":18.81,"z":18.35},{"y":11.17,"z":17.84},{"y":11.22,"z":17.79},{"y":12.87,"z":18.2},{"y":12.7,"z":17.91},{"y":12.99,"z":17.71},{"y":12.62,"z":17.59},{"y":11.75,"z":17.4},{"y":12.94,"z":17.35},{"y":14.51,"z":17.15},{"y":14.35,"z":17.1},{"y":14.08,"z":17.05},{"y":13.84,"z":17.0},{"y":13.42,"z":17.0},{"y":12.43,"z":16.98},{"y":12.67,"z":16.86},{"y":12.89,"z":16.86},{"y":11.75,"z":16.81},{"y":11.92,"z":16.73},{"y":12.09,"z":16.61},{"y":11.29,"z":16.37},{"y":11.19,"z":16.0},{"y":11.78,"z":16.27},{"y":11.65,"z":15.93},{"y":11.58,"z":15.71},{"y":11.9,"z":15.78},{"y":11.87,"z":15.58},{"y":11.97,"z":16.2},{"y":12.43,"z":16.02},{"y":12.7,"z":16.0},{"y":12.82,"z":16.02},{"y":12.99,"z":16.12},{"y":13.13,"z":16.17},{"y":13.59,"z":16.27},{"y":13.71,"z":16.32},{"y":14.15,"z":16.07},{"y":14.27,"z":16.02},{"y":14.35,"z":15.88},{"y":14.22,"z":15.78},{"y":14.44,"z":16.02},{"y":13.47,"z":16.61},{"y":14.68,"z":17.13},{"y":15.17,"z":17.4},{"y":15.36,"z":17.1},{"y":15.48,"z":16.86},{"y":15.53,"z":16.51},{"y":15.61,"z":16.07},{"y":15.41,"z":15.83},{"y":15.48,"z":15.63},{"y":15.36,"z":15.19},{"y":15.27,"z":15.29},{"y":15.02,"z":15.68},{"y":14.61,"z":15.68},{"y":16.26,"z":16.27},{"y":16.33,"z":16.07},{"y":16.38,"z":15.88},{"y":16.14,"z":15.78},{"y":16.45,"z":15.66},{"y":16.19,"z":16.17},{"y":16.67,"z":16.37},{"y":16.79,"z":17.05},{"y":16.75,"z":17.25},{"y":16.7,"z":17.64},{"y":16.89,"z":17.59},{"y":17.25,"z":17.74},{"y":17.84,"z":17.64},{"y":17.47,"z":17.35},{"y":17.23,"z":17.42},{"y":17.5,"z":16.42},{"y":17.64,"z":16.27},{"y":17.64,"z":16.61},{"y":17.98,"z":16.76},{"y":18.32,"z":16.88},{"y":18.51,"z":16.27},{"y":18.78,"z":16.32},{"y":18.85,"z":16.61},{"y":18.9,"z":16.96},{"y":18.81,"z":16.47},{"y":17.08,"z":15.88},{"y":17.11,"z":15.34},{"y":16.6,"z":15.14},{"y":16.5,"z":15.0},{"y":17.35,"z":14.6},{"y":17.74,"z":14.75},{"y":17.93,"z":14.46},{"y":18.13,"z":14.48},{"y":18.32,"z":15.09},{"y":14.49,"z":15.0},{"y":14.32,"z":14.85},{"y":13.79,"z":14.7},{"y":13.91,"z":14.6},{"y":13.11,"z":14.82},{"y":12.94,"z":14.8},{"y":12.5,"z":15.34},{"y":12.6,"z":15.63},{"y":11.95,"z":15.14},{"y":11.82,"z":14.65},{"y":12.24,"z":14.73},{"y":11.53,"z":15.53},{"y":11.41,"z":15.14},{"y":11.32,"z":13.62},{"y":13.08,"z":13.7},{"y":13.47,"z":14.16},{"y":13.62,"z":13.8},{"y":13.71,"z":13.58},{"y":12.94,"z":13.33},{"y":12.65,"z":12.94},{"y":13.71,"z":12.94},{"y":14.68,"z":13.58},{"y":14.98,"z":13.13},{"y":15.36,"z":13.18},{"y":14.88,"z":12.84},{"y":15.51,"z":14.36},{"y":15.92,"z":14.38},{"y":16.04,"z":14.07},{"y":16.53,"z":14.36},{"y":16.82,"z":14.21},{"y":17.16,"z":13.97},{"y":16.89,"z":12.77},{"y":16.94,"z":12.28},{"y":16.75,"z":11.44},{"y":13.47,"z":12.06},{"y":13.91,"z":11.86},{"y":18.51,"z":11.18},{"y":18.88,"z":13.53},{"y":18.64,"z":14.48},{"y":11.36,"z":17.52},{"y":13.23,"z":17.91},{"y":14.39,"z":15.58},{"y":15.82,"z":15.22},{"y":14.15,"z":14.65},{"y":17.59,"z":13.55},{"y":12.21,"z":14.11},{"y":15.76,"z":13.82},{"y":18.93,"z":16.75},{"y":18.7,"z":16.4}
]
},
"layer":[
{"data":{"name":"main"},"mark":{"type":"circle","size":16,"color":"#00008b","opacity":0.95},
 "encoding":{
 "x":{"field":"y","type":"quantitative","title":"y [mm]","scale":{"domain":[-20,20],"nice":false,"zero":false},"axis":{"values":[-20,-10,0,10,20],"labelPadding":7,"titlePadding":9}},
 "y":{"field":"z","type":"quantitative","title":"z [mm]","scale":{"domain":[-2.93,23.08],"nice":false,"zero":false},"axis":{"values":[0,10,20],"labelPadding":4,"titlePadding":11}}}},
{"data":{"values":[{}]},"mark":{"type":"rect","fill":"white","stroke":"#000","strokeWidth":1.8},
 "encoding":{"x":{"datum":11,"type":"quantitative","title":"y [mm]"},"x2":{"datum":19},"y":{"datum":10,"type":"quantitative","title":"z [mm]"},"y2":{"datum":22}}},
{"data":{"name":"inset"},"mark":{"type":"circle","size":16,"color":"#00008b","opacity":0.95},
 "encoding":{"x":{"field":"y","type":"quantitative","title":"y [mm]"},"y":{"field":"z","type":"quantitative","title":"z [mm]"}}},
{"data":{"values":[{}]},"mark":{"type":"rect","fillOpacity":0,"stroke":"#ff0000","strokeWidth":2,"strokeDash":[8,5]},
 "encoding":{"x":{"datum":-1,"type":"quantitative","title":"y [mm]"},"x2":{"datum":1},"y":{"datum":18.5,"type":"quantitative","title":"z [mm]"},"y2":{"datum":21.5}}},
{"data":{"values":[{}]},"mark":{"type":"rule","color":"#ff0000","strokeWidth":2,"strokeDash":[8,5]},
 "encoding":{"x":{"datum":1,"type":"quantitative","title":"y [mm]"},"x2":{"datum":11},"y":{"datum":21.5,"type":"quantitative","title":"z [mm]"},"y2":{"datum":22}}},
{"data":{"values":[{}]},"mark":{"type":"rule","color":"#ff0000","strokeWidth":2,"strokeDash":[8,5]},
 "encoding":{"x":{"datum":-1,"type":"quantitative","title":"y [mm]"},"x2":{"datum":11},"y":{"datum":18.5,"type":"quantitative","title":"z [mm]"},"y2":{"datum":10}}},
{"data":{"values":[{}]},"mark":{"type":"text","align":"left","baseline":"alphabetic","font":"Liberation Serif","fontSize":19,"fontWeight":"bold","color":"#231f20"},
 "encoding":{"x":{"datum":-42.67,"type":"quantitative","title":"y [mm]"},"y":{"datum":-12.53,"type":"quantitative","title":"z [mm]"},"text":{"value":"Figure 2."}}},
{"data":{"values":[{}]},"mark":{"type":"text","align":"left","baseline":"alphabetic","font":"Liberation Serif","fontSize":20.4,"color":"#231f20"},
 "encoding":{"x":{"datum":-37.08,"type":"quantitative","title":"y [mm]"},"y":{"datum":-12.53,"type":"quantitative","title":"z [mm]"},"text":{"value":"Imaged ion distributions at three different focus positions along the z-direction combined in one image for a magnification"}}},
{"data":{"values":[{}]},"mark":{"type":"text","align":"left","baseline":"alphabetic","font":"Liberation Serif","fontSize":20.4,"color":"#231f20","lineHeight":23},
 "encoding":{"x":{"datum":-42.67,"type":"quantitative","title":"y [mm]"},"y":{"datum":-14.21,"type":"quantitative","title":"z [mm]"},"text":{"value":["of 100. The focus positions are set such that their images on the detector are always centered at (0 mm, 0 mm), (0 mm, 10 mm), and","(0 mm, 20 mm)."]}}},
{"data":{"values":[{}]},"mark":{"type":"rect","fillOpacity":0,"stroke":"#8c8c8c","strokeWidth":2.5},
 "encoding":{"x":{"datum":-44.6,"type":"quantitative","title":"y [mm]"},"x2":{"datum":39.9},"y":{"datum":24.98,"type":"quantitative","title":"z [mm]"},"y2":{"datum":-17.75}}}
]
}
